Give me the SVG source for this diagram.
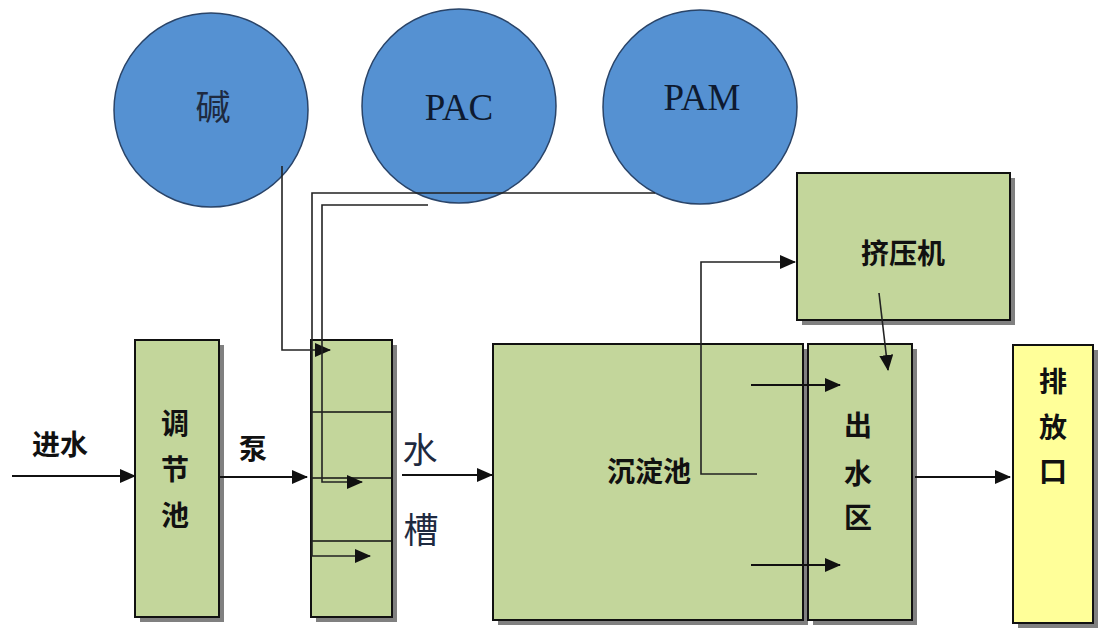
<svg xmlns="http://www.w3.org/2000/svg" width="1098" height="628" viewBox="0 0 1098 628">
<style>
.circ{fill:#5591D2;stroke:#2A4468;stroke-width:1.5}
.box{fill:#C3D69B;stroke:#111;stroke-width:2}
.ybox{fill:#FFFF99;stroke:#111;stroke-width:2}
.shadow{fill:#808080}
.lbl{font-family:"Noto Sans CJK SC","Liberation Sans",sans-serif;font-weight:bold;font-size:28px;fill:#111;text-anchor:middle;dominant-baseline:central}
.ser{font-family:"Liberation Serif","Noto Sans CJK SC",serif;font-size:37px;fill:#0E1A30;text-anchor:middle;dominant-baseline:central}
.cjk{font-family:"Noto Sans CJK SC",sans-serif;font-weight:400;font-size:35px;fill:#1E2A40;text-anchor:middle;dominant-baseline:central}
.ln{fill:none;stroke:#111;stroke-width:2}
.thin{fill:none;stroke:#222;stroke-width:1.6}
.inner{fill:none;stroke:#111;stroke-width:1.5}
</style>
<defs>
<marker id="arr" markerUnits="userSpaceOnUse" markerWidth="16" markerHeight="14" refX="15" refY="7" orient="auto">
<path d="M0,0 L16,7 L0,14 Z" fill="#111"/>
</marker>
</defs>
<rect width="1098" height="628" fill="#fff"/>

<g id="node-jian">
<circle class="circ" cx="211" cy="110" r="97"/>
<text class="cjk" x="213" y="104">碱</text>
</g>
<g id="node-pac">
<circle class="circ" cx="459" cy="106" r="97"/>
<text class="ser" x="459" y="107">PAC</text>
</g>
<g id="node-pam">
<circle class="circ" cx="700" cy="107" r="97"/>
<text class="ser" x="702" y="97">PAM</text>
</g>

<g id="node-tiaojiechi">
<rect class="shadow" x="140" y="345" width="84" height="277"/>
<rect class="box" x="135" y="340" width="84" height="277"/>
<text class="lbl" x="175" y="422">调</text>
<text class="lbl" x="175" y="468">节</text>
<text class="lbl" x="175" y="514">池</text>
</g>

<g id="node-shuicao">
<rect class="shadow" x="316" y="345" width="81" height="277"/>
<rect class="box" x="311" y="340" width="81" height="277"/>
<line class="inner" x1="311" y1="412" x2="392" y2="412"/>
<line class="inner" x1="311" y1="478" x2="392" y2="478"/>
<line class="inner" x1="311" y1="541" x2="392" y2="541"/>
<text class="cjk" x="420" y="447">水</text>
<text class="cjk" x="421" y="527">槽</text>
</g>

<g id="node-chendianchi">
<rect class="shadow" x="498" y="349" width="310" height="276"/>
<rect class="box" x="493" y="344" width="310" height="276"/>
<text class="lbl" x="649" y="470">沉淀池</text>
</g>

<g id="node-chushuiqu">
<rect class="shadow" x="813" y="349" width="104" height="276"/>
<rect class="box" x="808" y="344" width="104" height="276"/>
<text class="lbl" x="858" y="424">出</text>
<text class="lbl" x="858" y="472">水</text>
<text class="lbl" x="858" y="516">区</text>
</g>

<g id="node-jiyaji">
<rect class="shadow" x="802" y="178" width="213" height="147"/>
<rect class="box" x="797" y="173" width="213" height="147"/>
<text class="lbl" x="903" y="252">挤压机</text>
</g>

<g id="node-paifangkou">
<rect class="shadow" x="1018" y="350" width="80" height="278"/>
<rect class="ybox" x="1013" y="345" width="80" height="278"/>
<text class="lbl" x="1053" y="380">排</text>
<text class="lbl" x="1053" y="426">放</text>
<text class="lbl" x="1053" y="470">口</text>
</g>

<g id="labels">
<text class="lbl" x="60" y="443">进水</text>
<text class="lbl" x="253" y="447">泵</text>
</g>

<g id="connectors">
<line class="ln" x1="12" y1="476" x2="135" y2="476" marker-end="url(#arr)"/>
<line class="ln" x1="219" y1="477" x2="307" y2="477" marker-end="url(#arr)"/>
<line class="ln" x1="402" y1="475" x2="492" y2="475" marker-end="url(#arr)"/>
<line class="ln" x1="915" y1="477" x2="1010" y2="477" marker-end="url(#arr)"/>
<polyline class="thin" points="282,166 282,350 330,350" marker-end="url(#arr)"/>
<polyline class="thin" points="428,205 322,205 322,482 362,482" marker-end="url(#arr)"/>
<polyline class="thin" points="655,193 312,193 312,556 370,556" marker-end="url(#arr)"/>
<polyline class="thin" points="757,474 701,474 701,262 795,262" marker-end="url(#arr)"/>
<line class="thin" x1="879" y1="293" x2="888" y2="370" marker-end="url(#arr)"/>
<line class="ln" x1="751" y1="385" x2="840" y2="385" marker-end="url(#arr)"/>
<line class="ln" x1="751" y1="565" x2="840" y2="565" marker-end="url(#arr)"/>
</g>
</svg>
